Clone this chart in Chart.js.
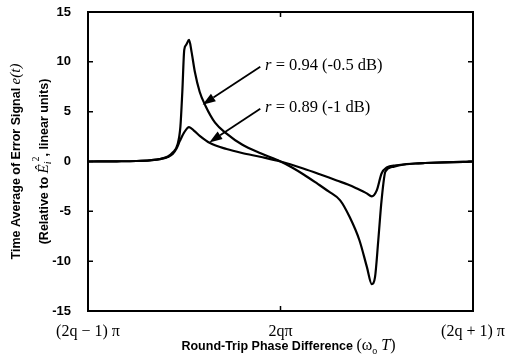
<!DOCTYPE html>
<html>
<head>
<meta charset="utf-8">
<script src="https://cdn.jsdelivr.net/npm/chart.js@4.4.0/dist/chart.umd.min.js"></script>
<style>
  html, body { margin: 0; padding: 0; background: #fff; }
  #wrap { width: 512px; height: 356px; }
</style>
</head>
<body>
<div id="wrap"><canvas id="errChart" width="512" height="356"></canvas></div>
<script>
// phase axis in units of pi, measured from 2q*pi
const phaseR94 = [-1, -0.85, -0.75, -0.68, -0.62, -0.585, -0.56, -0.535, -0.52, -0.51, -0.5, -0.49, -0.475, -0.462, -0.445, -0.42, -0.39, -0.34, -0.28, -0.2, -0.1, 0, 0.06, 0.12, 0.19, 0.25, 0.31, 0.36, 0.41, 0.449, 0.474, 0.491, 0.508, 0.525, 0.545, 0.58, 0.62, 0.7, 0.75, 0.85, 0.95, 1];
const errR94   = [0, 0.02, 0.05, 0.12, 0.27, 0.5, 0.9, 1.7, 3.5, 7, 11.2, 11.7, 12.2, 11.0, 9.0, 7.0, 5.6, 3.9, 2.8, 1.7, 0.8, 0, -0.6, -1.3, -2.2, -3.0, -3.9, -5.6, -7.9, -10.6, -12.3, -11.6, -7.9, -3.9, -1.0, -0.55, -0.38, -0.2, -0.15, -0.08, -0.04, 0];

const phaseR89 = [-1, -0.85, -0.75, -0.68, -0.62, -0.585, -0.56, -0.54, -0.522, -0.501, -0.475, -0.45, -0.418, -0.366, -0.28, -0.2, -0.1, 0, 0.118, 0.2, 0.292, 0.35, 0.396, 0.448, 0.474, 0.5, 0.525, 0.552, 0.6, 0.7, 0.75, 0.85, 0.95, 1];
const errR89   = [0, 0.02, 0.05, 0.12, 0.27, 0.45, 0.75, 1.3, 2.1, 2.9, 3.45, 3.1, 2.55, 1.85, 1.25, 0.85, 0.45, 0, -0.7, -1.25, -1.9, -2.3, -2.7, -3.2, -3.5, -2.9, -1.2, -0.6, -0.38, -0.2, -0.15, -0.08, -0.04, 0];

const yTickValues = [-15, -10, -5, 0, 5, 10, 15];
const xTickValues = [-1, 0, 1];
const xTickLabels = ['(2q \u2212 1) \u03c0', '2q\u03c0', '(2q + 1) \u03c0'];

// annotation text + arrows, in data units
const labels = [
  { r: '0.94 (-0.5 dB)', at: [-0.08, 9.6], from: [-0.105, 9.5], to: [-0.405, 5.7] },
  { r: '0.89 (-1 dB)',   at: [-0.08, 5.4], from: [-0.105, 5.3], to: [-0.37, 1.9] }
];

const SERIF = '"Liberation Serif", "Times New Roman", serif';
const SANS = '"Liberation Sans", Arial, sans-serif';

const toPoints = (xs, ys) => xs.map((x, i) => ({ x: x, y: ys[i] }));

// draws mixed-font runs; each run: [text, font, dy]
function drawRuns(ctx, runs, x, y, align) {
  let total = 0;
  runs.forEach(r => { ctx.font = r[1]; total += ctx.measureText(r[0]).width; });
  let cx = align === 'center' ? x - total / 2 : x;
  ctx.textAlign = 'left';
  runs.forEach(r => {
    ctx.font = r[1];
    ctx.fillText(r[0], cx, y + (r[2] || 0));
    cx += ctx.measureText(r[0]).width;
  });
}

function arrow(ctx, x1, y1, x2, y2) {
  const ang = Math.atan2(y2 - y1, x2 - x1);
  const len = 13, half = 4.5;
  const bx = x2 - len * Math.cos(ang), by = y2 - len * Math.sin(ang);
  ctx.beginPath();
  ctx.moveTo(x1, y1);
  ctx.lineTo(bx, by);
  ctx.stroke();
  ctx.beginPath();
  ctx.moveTo(x2, y2);
  ctx.lineTo(bx + half * Math.sin(ang), by - half * Math.cos(ang));
  ctx.lineTo(bx - half * Math.sin(ang), by + half * Math.cos(ang));
  ctx.closePath();
  ctx.fill();
}

const decor = {
  id: 'decor',
  afterDraw(chart) {
    const { ctx, chartArea: a, scales } = chart;
    const xs = scales.x, ys = scales.y;
    ctx.save();
    ctx.strokeStyle = '#000';
    ctx.fillStyle = '#000';

    // frame
    ctx.lineWidth = 2;
    ctx.strokeRect(a.left, a.top, a.right - a.left, a.bottom - a.top);

    // inward ticks
    ctx.lineWidth = 1.5;
    ctx.beginPath();
    yTickValues.slice(1, -1).forEach(v => {
      const py = ys.getPixelForValue(v);
      ctx.moveTo(a.left, py); ctx.lineTo(a.left + 5, py);
      ctx.moveTo(a.right, py); ctx.lineTo(a.right - 5, py);
    });
    const px0 = xs.getPixelForValue(0);
    ctx.moveTo(px0, a.top); ctx.lineTo(px0, a.top + 5);
    ctx.moveTo(px0, a.bottom); ctx.lineTo(px0, a.bottom - 5);
    ctx.stroke();

    // annotations
    ctx.lineWidth = 1.8;
    ctx.textBaseline = 'middle';
    labels.forEach(l => {
      drawRuns(ctx, [
        ['r', 'italic 16.5px ' + SERIF],
        [' = ' + l.r, '16.5px ' + SERIF]
      ], xs.getPixelForValue(l.at[0]), ys.getPixelForValue(l.at[1]), 'left');
      arrow(ctx, xs.getPixelForValue(l.from[0]), ys.getPixelForValue(l.from[1]),
        xs.getPixelForValue(l.to[0]), ys.getPixelForValue(l.to[1]));
    });

    // x title
    const midX = (a.left + a.right) / 2 + 8;
    ctx.textBaseline = 'alphabetic';
    drawRuns(ctx, [
      ['Round-Trip Phase Difference ', 'bold 12.5px ' + SANS],
      ['(\u03c9', '16px ' + SERIF],
      ['o', '10px ' + SERIF, 4],
      [' T', 'italic 16px ' + SERIF],
      [')', '16px ' + SERIF]
    ], midX, 350, 'center');

    // y title (rotated)
    const midY = (a.top + a.bottom) / 2;
    ctx.save();
    ctx.translate(20, midY);
    ctx.rotate(-Math.PI / 2);
    drawRuns(ctx, [
      ['Time Average of Error Signal ', 'bold 12.5px ' + SANS],
      ['e(t)', 'italic 15px ' + SERIF]
    ], 0, 0, 'center');
    ctx.restore();
    ctx.save();
    ctx.translate(48, midY);
    ctx.rotate(-Math.PI / 2);
    drawRuns(ctx, [
      ['(Relative to ', 'bold 12.5px ' + SANS],
      ['\u00ca', 'italic 15px ' + SERIF],
      ['i', 'italic 10px ' + SERIF, 3],
      ['2', '10px ' + SERIF, -9],
      [', linear units)', 'bold 12.5px ' + SANS]
    ], 0, 0, 'center');
    ctx.restore();

    ctx.restore();
  }
};

const lineStyle = {
  borderColor: '#000',
  borderWidth: 2.2,
  pointRadius: 0,
  fill: false,
  cubicInterpolationMode: 'monotone'
};

new Chart(document.getElementById('errChart'), {
  type: 'line',
  data: {
    datasets: [
      Object.assign({ label: 'r = 0.94', data: toPoints(phaseR94, errR94) }, lineStyle),
      Object.assign({ label: 'r = 0.89', data: toPoints(phaseR89, errR89) }, lineStyle)
    ]
  },
  options: {
    responsive: false,
    animation: false,
    layout: { padding: { left: 0, top: 12, right: 39, bottom: 0 } },
    plugins: { legend: { display: false }, tooltip: { enabled: false } },
    scales: {
      x: {
        type: 'linear',
        min: -1,
        max: 1,
        afterFit(scale) { scale.height = 45; },
        afterBuildTicks(scale) { scale.ticks = xTickValues.map(v => ({ value: v })); },
        grid: { display: false },
        border: { display: false },
        ticks: {
          color: '#000',
          padding: 3,
          maxRotation: 0,
          font: { family: SERIF, size: 16 },
          callback: (v) => xTickLabels[xTickValues.indexOf(v)]
        }
      },
      y: {
        min: -15,
        max: 15,
        afterFit(scale) { scale.width = 88; scale.paddingTop = 0; scale.paddingBottom = 0; },
        afterBuildTicks(scale) { scale.ticks = yTickValues.map(v => ({ value: v })); },
        grid: { display: false },
        border: { display: false },
        ticks: {
          color: '#000',
          padding: 9,
          font: { family: SANS, size: 13, weight: 'bold' }
        }
      }
    }
  },
  plugins: [decor]
});
</script>
</body>
</html>
